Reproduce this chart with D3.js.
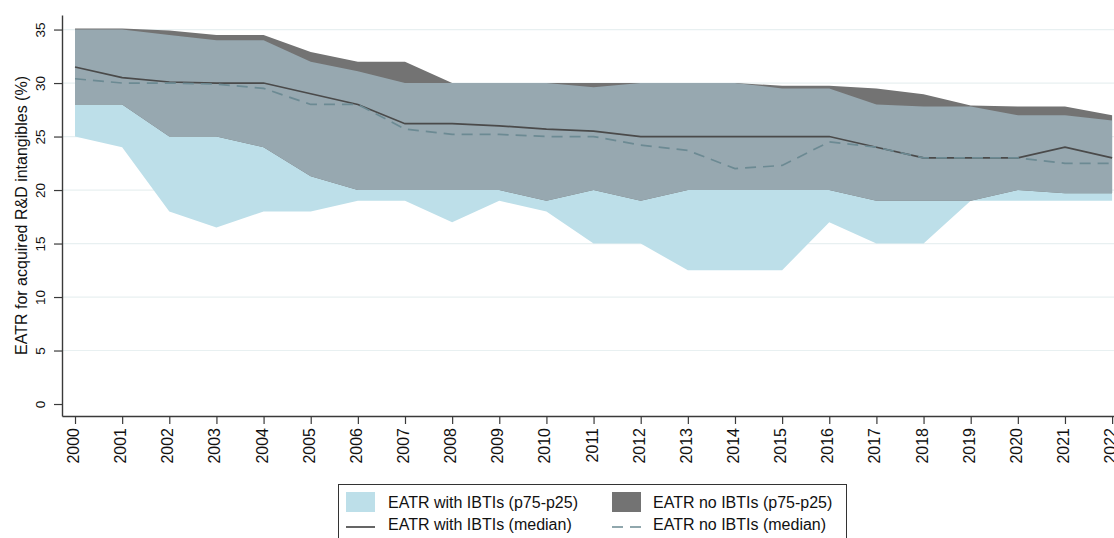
<!DOCTYPE html>
<html>
<head>
<meta charset="utf-8">
<script src="https://cdn.jsdelivr.net/npm/d3@7"></script>
<style>
  html, body { margin: 0; padding: 0; background: #fff; }
  svg { display: block; font-family: "Liberation Sans", Arial, Helvetica, sans-serif; }
</style>
</head>
<body>
<svg id="chart" width="1114" height="538"></svg>
<script>
// Years on the x axis
const years = d3.range(2000, 2023);

// EATR with IBTIs: interquartile band and median
const withP75 = [35.0, 35.0, 34.5, 34.0, 34.0, 32.0, 31.1, 30.0, 30.0, 30.0, 30.0, 29.6, 30.0, 30.0, 30.0, 29.5, 29.5, 28.0, 27.8, 27.8, 27.0, 27.0, 26.5];
const withP25 = [25.0, 24.0, 18.0, 16.5, 18.0, 18.0, 19.0, 19.0, 17.0, 19.0, 18.0, 15.0, 15.0, 12.5, 12.5, 12.5, 17.0, 15.0, 15.0, 19.0, 19.0, 19.0, 19.0];
const withMedian = [31.5, 30.5, 30.1, 30.0, 30.0, 29.0, 28.0, 26.2, 26.2, 26.0, 25.7, 25.5, 25.0, 25.0, 25.0, 25.0, 25.0, 24.0, 23.0, 23.0, 23.0, 24.0, 23.0];

// EATR without IBTIs: interquartile band and median
const noP75 = [35.1, 35.1, 34.9, 34.5, 34.5, 32.9, 32.0, 32.0, 30.0, 30.0, 30.0, 30.0, 30.0, 30.0, 30.0, 29.75, 29.75, 29.5, 28.95, 27.9, 27.8, 27.8, 27.0];
const noP25 = [28.0, 28.0, 25.0, 25.0, 24.0, 21.3, 20.0, 20.0, 20.0, 20.0, 19.0, 20.0, 19.0, 20.0, 20.0, 20.0, 20.0, 19.0, 19.0, 19.0, 20.0, 19.7, 19.7];
const noMedian = [30.4, 30.0, 30.0, 29.9, 29.5, 28.0, 28.0, 25.7, 25.2, 25.2, 25.0, 25.0, 24.2, 23.7, 22.0, 22.3, 24.5, 24.0, 23.0, 23.0, 23.0, 22.5, 22.5];

// Axis ticks and labels
const yTicks = [0, 5, 10, 15, 20, 25, 30, 35];
const yTitle = "EATR for acquired R&D intangibles (%)";
const legendLabels = [
  "EATR with IBTIs (p75-p25)",
  "EATR no IBTIs (p75-p25)",
  "EATR with IBTIs (median)",
  "EATR no IBTIs (median)"
];

const colors = {
  withBand: "#bddfe9",
  noBand: "#737373",
  overlap: "#97a8b0",
  withLine: "#4a4a4a",
  noLine: "#6c8a93",
  grid: "#e8f0f1",
  axis: "#3a3a3a"
};

const svg = d3.select("#chart");

const x = d3.scaleLinear().domain([1999.724, 2022.04]).range([62, 1114]);
const y = d3.scaleLinear().domain([-1.12, 36.36]).range([416, 15]);

const rows = years.map((yr, i) => ({
  year: yr,
  wHi: withP75[i], wLo: withP25[i], wMed: withMedian[i],
  nHi: noP75[i], nLo: noP25[i], nMed: noMedian[i]
}));

// Horizontal grid lines
svg.append("g")
  .selectAll("line")
  .data(yTicks.filter(t => t > 0))
  .join("line")
  .attr("x1", x.range()[0]).attr("x2", x.range()[1])
  .attr("y1", d => y(d)).attr("y2", d => y(d))
  .attr("stroke", colors.grid)
  .attr("stroke-width", 1.2);

const areaWith = d3.area().x(d => x(d.year)).y0(d => y(d.wLo)).y1(d => y(d.wHi));
const areaNo = d3.area().x(d => x(d.year)).y0(d => y(d.nLo)).y1(d => y(d.nHi));

// Clip region equal to the "with IBTIs" band, used to tint the shared range
const defs = svg.append("defs");
defs.append("clipPath").attr("id", "withClip")
  .append("path").attr("d", areaWith(rows));

svg.append("path").attr("d", areaWith(rows)).attr("fill", colors.withBand);
svg.append("path").attr("d", areaNo(rows)).attr("fill", colors.noBand);
svg.append("path").attr("d", areaNo(rows)).attr("fill", colors.overlap)
  .attr("clip-path", "url(#withClip)");

// Median lines
const lineWith = d3.line().x(d => x(d.year)).y(d => y(d.wMed));
const lineNo = d3.line().x(d => x(d.year)).y(d => y(d.nMed));

svg.append("path").attr("d", lineWith(rows))
  .attr("fill", "none").attr("stroke", colors.withLine).attr("stroke-width", 1.7);
svg.append("path").attr("d", lineNo(rows))
  .attr("fill", "none").attr("stroke", colors.noLine).attr("stroke-width", 1.7)
  .attr("stroke-dasharray", "11,7");

// Y axis
const yAxis = svg.append("g")
  .attr("transform", `translate(${x.range()[0]},0)`)
  .call(d3.axisLeft(y).tickValues(yTicks).tickSize(8).tickSizeOuter(0).tickPadding(9));
yAxis.select(".domain").attr("stroke", colors.axis).attr("stroke-width", 1.4);
yAxis.selectAll(".tick line").attr("stroke", colors.axis).attr("stroke-width", 1.2);
yAxis.selectAll(".tick text")
  .attr("transform", "rotate(-90)")
  .attr("x", 0).attr("y", -17)
  .attr("dy", 0)
  .attr("text-anchor", "middle")
  .attr("font-size", 13.5)
  .attr("font-family", "Liberation Sans, Arial, sans-serif")
  .attr("fill", "#111");

// X axis
const xAxis = svg.append("g")
  .attr("transform", `translate(0,${y.range()[0]})`)
  .call(d3.axisBottom(x).tickValues(years).tickFormat(d3.format("d")).tickSize(8).tickSizeOuter(0));
xAxis.select(".domain").attr("stroke", colors.axis).attr("stroke-width", 1.4);
xAxis.selectAll(".tick line").attr("stroke", colors.axis).attr("stroke-width", 1.2);
xAxis.selectAll(".tick text")
  .attr("transform", "rotate(-90)")
  .attr("x", -12).attr("y", 0)
  .attr("dy", "0.22em")
  .attr("text-anchor", "end")
  .attr("font-size", 16)
  .attr("font-family", "Liberation Sans, Arial, sans-serif")
  .attr("fill", "#111");

// Y axis title
svg.append("text")
  .attr("transform", `translate(26.5,${(76 + 355) / 2}) rotate(-90)`)
  .attr("text-anchor", "middle")
  .attr("font-size", 16)
  .attr("fill", "#111")
  .text(yTitle);

// Legend
const lg = svg.append("g");
lg.append("rect")
  .attr("x", 338.5).attr("y", 484.5).attr("width", 508).attr("height", 70)
  .attr("fill", "#fff").attr("stroke", "#333").attr("stroke-width", 1);

const col = [346, 612];
const textX = [388, 653];
lg.append("rect").attr("x", col[0]).attr("y", 492).attr("width", 29).attr("height", 20).attr("fill", colors.withBand);
lg.append("rect").attr("x", col[1]).attr("y", 492).attr("width", 29).attr("height", 20).attr("fill", colors.noBand);
lg.append("line").attr("x1", col[0]).attr("x2", col[0] + 29).attr("y1", 527).attr("y2", 527)
  .attr("stroke", colors.withLine).attr("stroke-width", 1.7);
lg.append("line").attr("x1", col[1]).attr("x2", col[1] + 29).attr("y1", 527).attr("y2", 527)
  .attr("stroke", colors.noLine).attr("stroke-width", 1.7).attr("stroke-dasharray", "11,7");

const legendPos = [[textX[0], 508], [textX[1], 508], [textX[0], 530], [textX[1], 530]];
lg.selectAll("text.lbl")
  .data(legendLabels)
  .join("text")
  .attr("class", "lbl")
  .attr("x", (d, i) => legendPos[i][0])
  .attr("y", (d, i) => legendPos[i][1])
  .attr("font-size", 16)
  .attr("fill", "#111")
  .text(d => d);
</script>
</body>
</html>
